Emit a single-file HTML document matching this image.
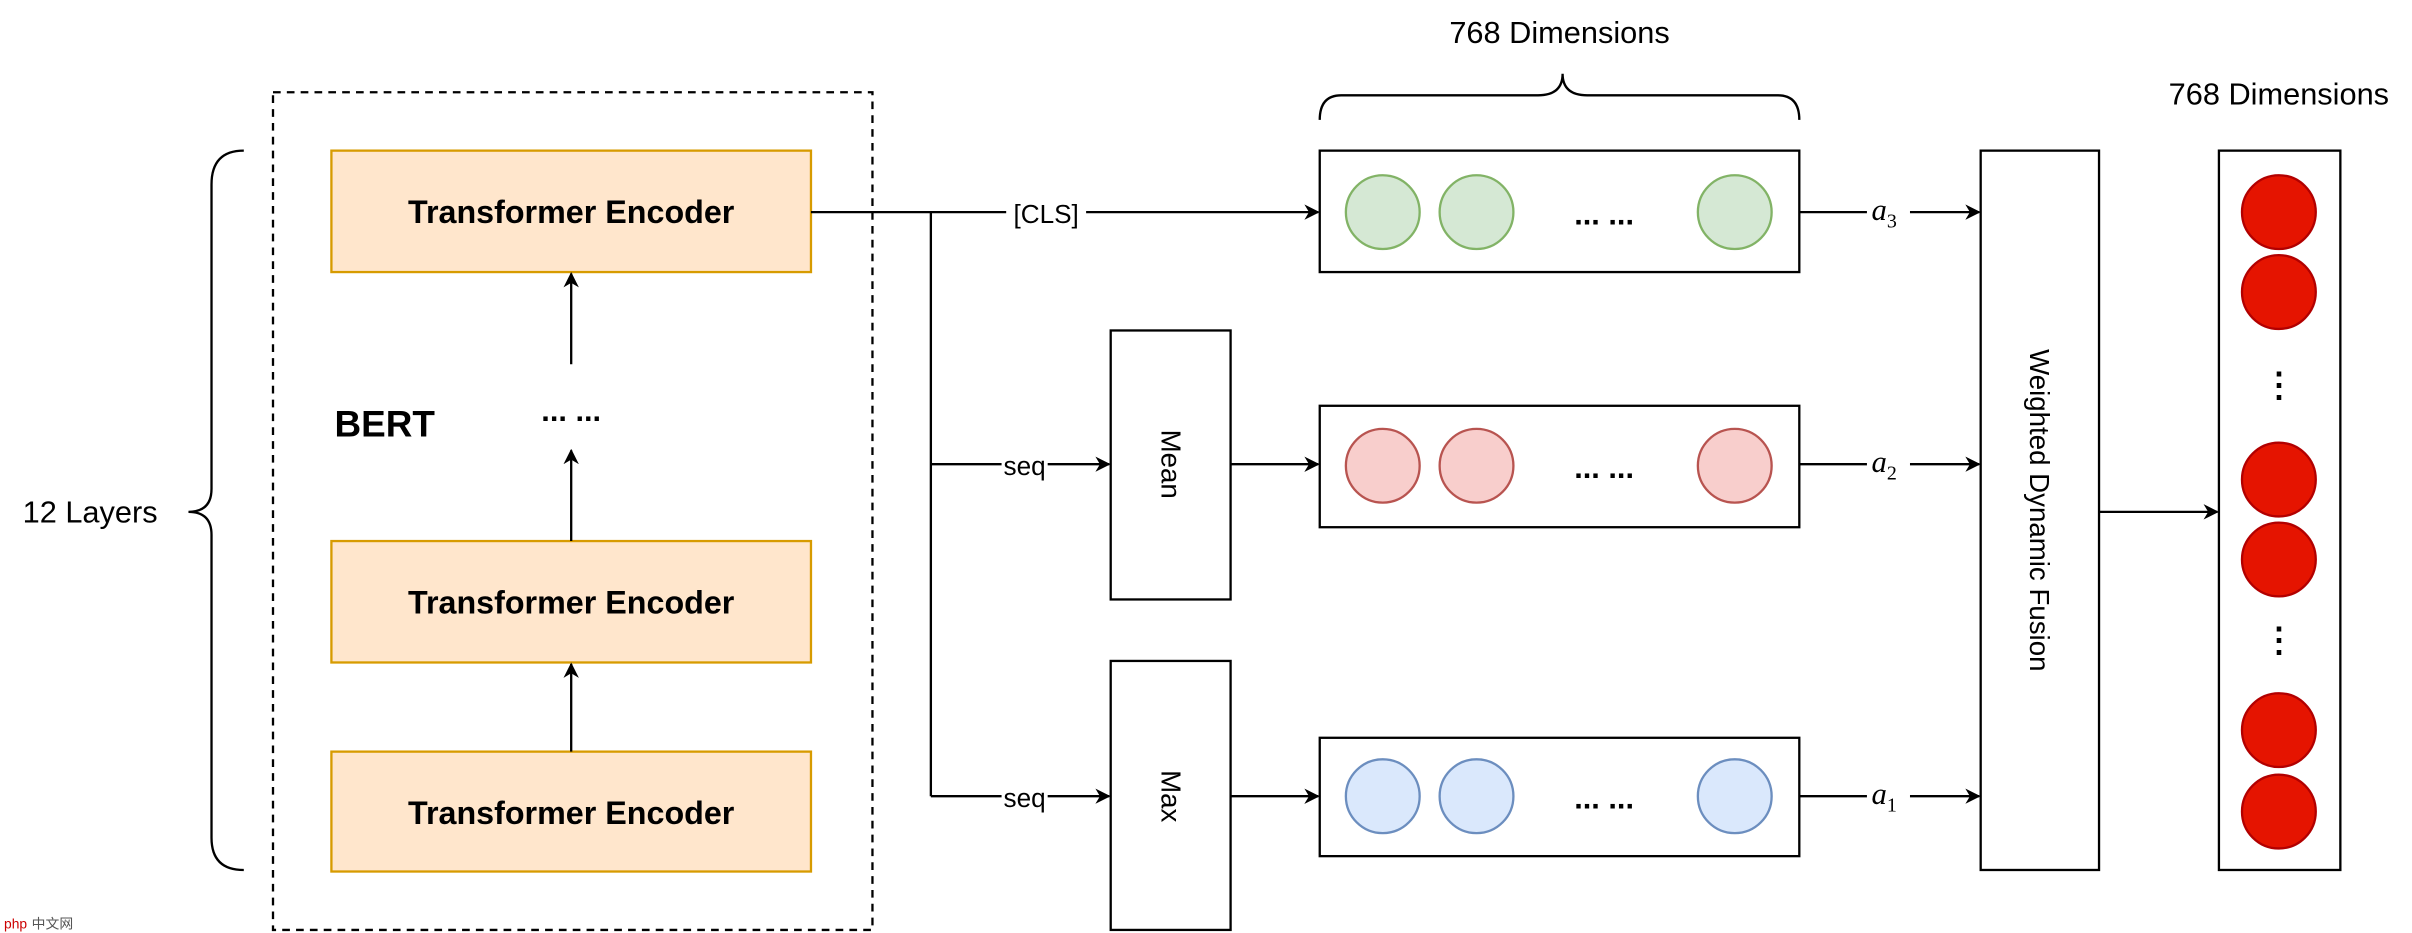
<!DOCTYPE html>
<html><head><meta charset="utf-8"><style>html,body{margin:0;padding:0;background:#fff}svg{display:block}</style></head>
<body>
<svg width="2412" height="933" viewBox="0 0 1568 607" xmlns="http://www.w3.org/2000/svg" font-family="Liberation Sans, Helvetica, sans-serif">
<defs><marker id="ah" markerWidth="10" markerHeight="10" refX="9" refY="5" orient="auto" markerUnits="userSpaceOnUse"><path d="M0,0 L10,5 L0,10 L3,5 Z" fill="#000"/></marker></defs>
<rect width="1568" height="607" fill="#fff"/>
<path d="M158,98 Q137,98 137,120 L137,318 Q137,333 122,333 Q137,333 137,348 L137,545 Q137,566 158,566" fill="none" stroke="#000" stroke-width="1.5"/>
<text x="58" y="340" font-size="20" text-anchor="middle">12 Layers</text>
<rect x="177" y="60" width="390" height="545" fill="none" stroke="#000" stroke-width="1.5" stroke-dasharray="5,4"/>
<g fill="#ffe6cc" stroke="#d79b00" stroke-width="1.5">
<rect x="215" y="98" width="312" height="79"/><rect x="215" y="352" width="312" height="79"/><rect x="215" y="489" width="312" height="78"/></g>
<g font-size="21" font-weight="bold" text-anchor="middle">
<text x="371" y="145">Transformer Encoder</text><text x="371" y="399">Transformer Encoder</text><text x="371" y="536">Transformer Encoder</text></g>
<text x="217" y="284" font-size="24" font-weight="bold">BERT</text>
<text x="371" y="274" font-size="20" font-weight="bold" text-anchor="middle">... ...</text>
<g stroke="#000" stroke-width="1.5" fill="none" marker-end="url(#ah)">
<line x1="371" y1="489" x2="371" y2="432"/><line x1="371" y1="352" x2="371" y2="293"/><line x1="371" y1="237" x2="371" y2="178"/>
<line x1="605" y1="138" x2="857" y2="138"/><line x1="605" y1="302" x2="721" y2="302"/><line x1="605" y1="518" x2="721" y2="518"/>
<line x1="800" y1="302" x2="857" y2="302"/><line x1="800" y1="518" x2="857" y2="518"/>
<line x1="1170" y1="138" x2="1287" y2="138"/><line x1="1170" y1="302" x2="1287" y2="302"/><line x1="1170" y1="518" x2="1287" y2="518"/>
<line x1="1365" y1="333" x2="1442" y2="333"/></g>
<path d="M527,138 L605,138 L605,518" fill="none" stroke="#000" stroke-width="1.5"/>
<g font-size="17" text-anchor="middle">
<rect x="654" y="128" width="52" height="20" fill="#fff"/><text x="680" y="145">[CLS]</text>
<rect x="651" y="292" width="30" height="20" fill="#fff"/><text x="666" y="309">seq</text>
<rect x="651" y="508" width="30" height="20" fill="#fff"/><text x="666" y="525">seq</text></g>
<g fill="#fff" stroke="#000" stroke-width="1.5">
<rect x="722" y="215" width="78" height="175"/><rect x="722" y="430" width="78" height="175"/>
<rect x="858" y="98" width="312" height="79"/><rect x="858" y="264" width="312" height="79"/><rect x="858" y="480" width="312" height="77"/>
<rect x="1288" y="98" width="77" height="468"/><rect x="1443" y="98" width="79" height="468"/></g>
<text transform="translate(761,302) rotate(90)" font-size="18" text-anchor="middle" dy="6">Mean</text>
<text transform="translate(761,518) rotate(90)" font-size="18" text-anchor="middle" dy="6">Max</text>
<text transform="translate(1326,332) rotate(90)" font-size="18" text-anchor="middle" dy="6">Weighted Dynamic Fusion</text>
<g stroke-width="1.5">
<g fill="#d5e8d4" stroke="#82b366"><circle cx="899" cy="138" r="24"/><circle cx="960" cy="138" r="24"/><circle cx="1128" cy="138" r="24"/></g>
<g fill="#f8cecc" stroke="#b85450"><circle cx="899" cy="303" r="24"/><circle cx="960" cy="303" r="24"/><circle cx="1128" cy="303" r="24"/></g>
<g fill="#dae8fc" stroke="#6c8ebf"><circle cx="899" cy="518" r="24"/><circle cx="960" cy="518" r="24"/><circle cx="1128" cy="518" r="24"/></g>
<g fill="#e51400" stroke="#b20000"><circle cx="1482" cy="138" r="24"/><circle cx="1482" cy="190" r="24"/><circle cx="1482" cy="312" r="24"/><circle cx="1482" cy="364" r="24"/><circle cx="1482" cy="475" r="24"/><circle cx="1482" cy="528" r="24"/></g></g>
<g font-size="20" font-weight="bold" text-anchor="middle">
<text x="1043" y="146">... ...</text><text x="1043" y="311">... ...</text><text x="1043" y="526">... ...</text></g>
<g font-size="22" font-weight="bold" text-anchor="middle"><text x="1482" y="258">⋮</text><text x="1482" y="424">⋮</text></g>
<path d="M858,78 Q858,62 872,62 L1000,62 Q1016,62 1016,48 Q1016,62 1032,62 L1156,62 Q1170,62 1170,78" fill="none" stroke="#000" stroke-width="1.5"/>
<text x="1014" y="28" font-size="20" text-anchor="middle">768 Dimensions</text>
<text x="1482" y="68" font-size="20" text-anchor="middle">768 Dimensions</text>
<g fill="#fff"><rect x="1214" y="126" width="28" height="24"/><rect x="1214" y="290" width="28" height="24"/><rect x="1214" y="506" width="28" height="24"/></g>
<g font-family="Liberation Serif, serif" font-style="italic" font-size="20">
<text x="1217" y="143">a<tspan font-size="13" dy="5" font-style="normal">3</tspan></text>
<text x="1217" y="307">a<tspan font-size="13" dy="5" font-style="normal">2</tspan></text>
<text x="1217" y="523">a<tspan font-size="13" dy="5" font-style="normal">1</tspan></text></g>
<text x="2" y="604" font-size="9" fill="#c00">php</text><text x="20" y="604" font-size="9" fill="#555">中文网</text>
</svg>
</body></html>
